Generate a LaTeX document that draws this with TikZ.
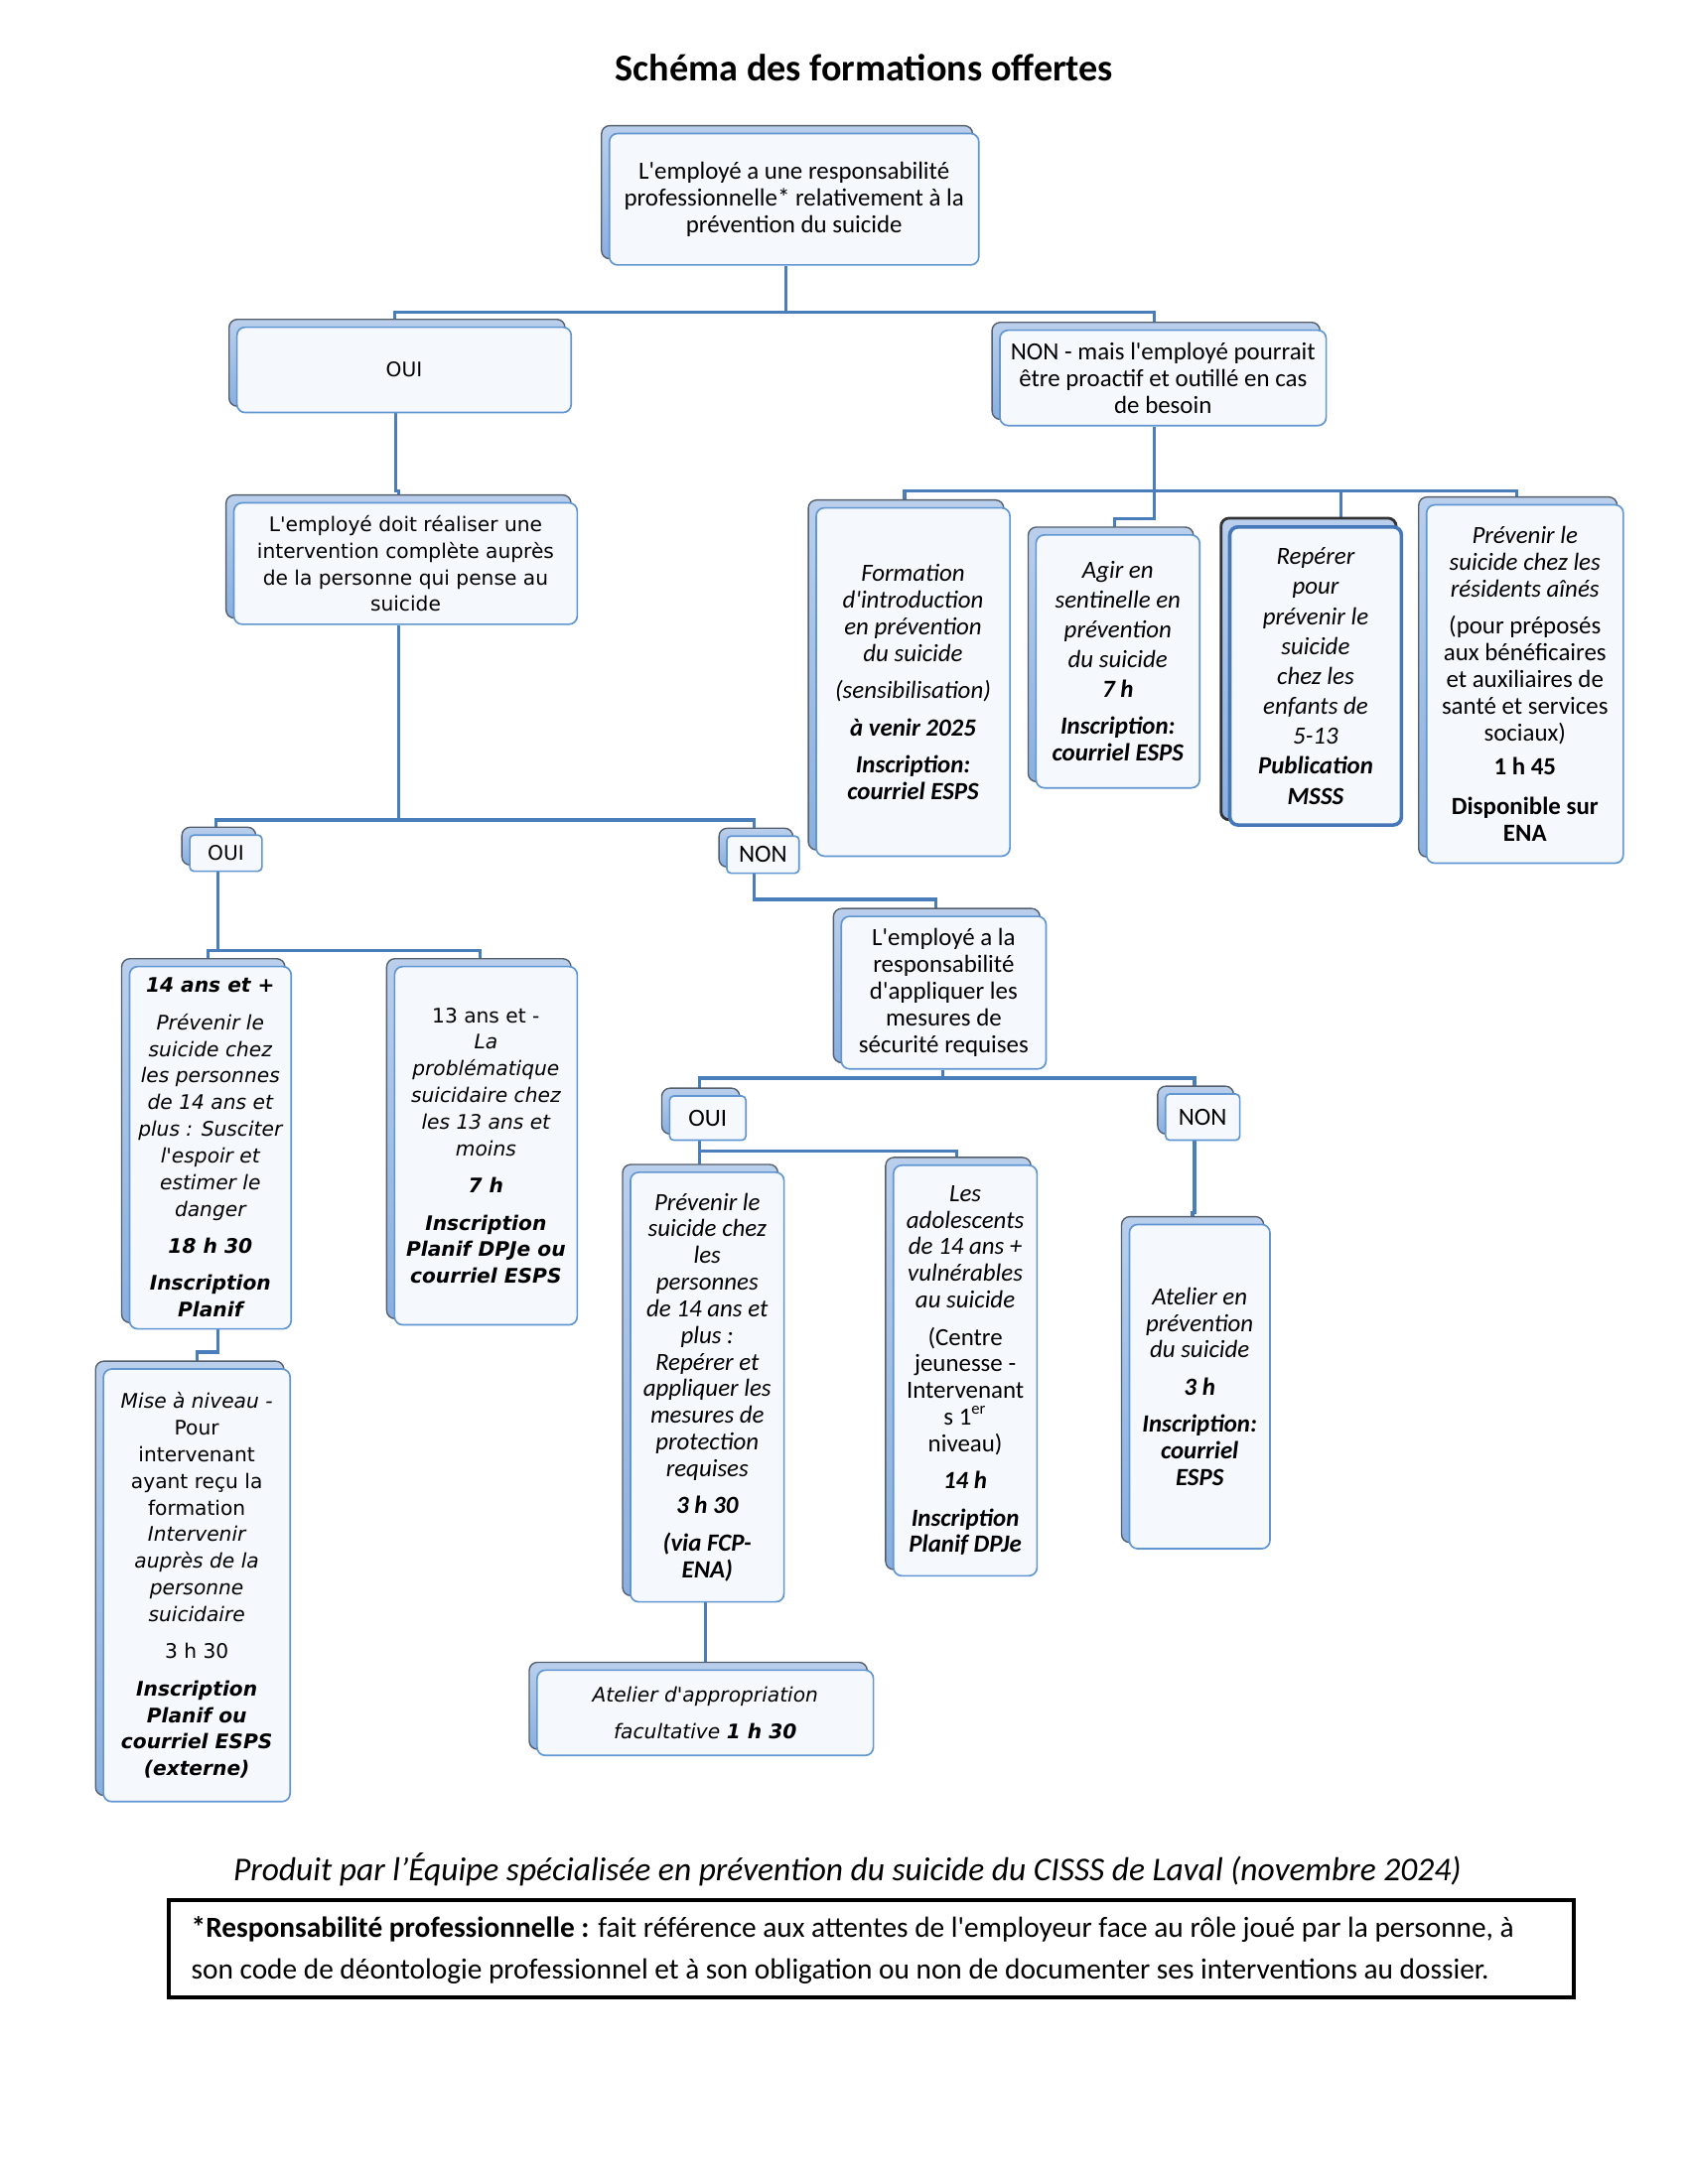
\documentclass[tikz,border=0pt]{standalone}
\usepackage{fontspec}
\setmainfont{Carlito}[Ligatures=TeXOff]
\newfontfamily\vfont{DejaVu Sans}[Ligatures=TeXOff]
\usetikzlibrary{calc,backgrounds}
\definecolor{conn}{RGB}{74,126,187}
\definecolor{backtop}{RGB}{186,207,236}
\definecolor{backbot}{RGB}{138,175,223}
\definecolor{backline}{RGB}{85,95,108}
\definecolor{frontfill}{RGB}{245,248,252}
\definecolor{frontline}{RGB}{96,150,210}
\definecolor{gline}{RGB}{70,120,185}
\newcommand\myI[1]{{\itshape #1}}
\newcommand\myB[1]{{\bfseries\itshape #1}}
\newcommand\backbox[1]{\path[back] ($(#1.north west)+(-7,-7)$) rectangle ($(#1.south east)+(-7,-7)$);}
\newcommand\backboxG[1]{\path[back, draw=black!80, line width=1pt] ($(#1.north west)+(-7,-7)$) rectangle ($(#1.south east)+(-7,-7)$);}
\newcommand\tobox[2]{($(#1 |- #2.north)+(0,-7)$)}
\tikzset{
  front/.style={draw=frontline, fill=frontfill, line width=0.6pt, rounded corners=3pt, inner sep=0pt, align=center},
  frontG/.style={front, draw=gline, line width=1.3pt},
  small/.style={rounded corners=1.5pt},
  sz/.style 2 args={minimum width=#1*0.36533pt, minimum height=#2*0.36533pt},
  cal/.style={font=\fontsize{9}{9.7}\selectfont},
  ver/.style={font=\vfont\fontsize{7.3}{9.7}\selectfont},
  link/.style={draw=conn, line width=1.2pt},
  back/.style={draw=backline, line width=0.5pt, top color=backtop, bottom color=backbot, rounded corners=3pt},
}
\begin{document}
\begin{tikzpicture}[x=0.36533pt, y=-0.36533pt]
\useasboundingbox (0,0) rectangle (1681.5,2176);

\node[font=\bfseries\fontsize{13.8}{16}\selectfont] (title) at (861,67) {Schéma des formations offertes};

\node[front, cal, sz={368}{131}] (A) at (791,198.5) {L'employé a une responsabilité\\ professionnelle* relativement à la\\ prévention du suicide};
\node[front, ver, sz={333}{85}] (B) at (402.5,368.5) {OUI};
\node[front, ver, sz={342}{121}] (C) at (404,561.5) {L'employé doit réaliser une\\ intervention complète auprès\\ de la personne qui pense au\\ suicide};
\node[front, cal, sz={325}{95}] (D) at (1158.5,376.5) {NON - mais l'employé pourrait\\ être proactif et outillé en cas\\ de besoin};

\node[front, cal, sz={193}{347}] (E) at (909.5,679.5) {\myI{Formation}\\ \myI{d'introduction}\\ \myI{en prévention}\\ \myI{du suicide}\\[3.8pt] \myI{(sensibilisation)}\\[3.8pt] \myB{à venir 2025}\\[3.8pt] \myB{Inscription:}\\ \myB{courriel ESPS}};
\node[front, cal, sz={163}{252}] (F) at (1113.5,659) {\myI{Agir en}\\[1.1pt] \myI{sentinelle en}\\[1.1pt] \myI{prévention}\\[1.1pt] \myI{du suicide}\\[1.1pt] \myB{7 h}\\[3.8pt] \myB{Inscription:}\\ \myB{courriel ESPS}};
\node[frontG, cal, sz={171}{297}] (G) at (1310.5,673.5) {\myI{Repérer}\\[1.2pt] \myI{pour}\\[1.2pt] \myI{prévenir le}\\[1.2pt] \myI{suicide}\\[1.2pt] \myI{chez les}\\[1.2pt] \myI{enfants de}\\[1.2pt] \myI{5-13}\\[1.2pt] \myB{Publication}\\[1.2pt] \myB{MSSS}};
\node[front, cal, sz={196}{357}] (H) at (1519,681.5) {\myI{Prévenir le}\\ \myI{suicide chez les}\\ \myI{résidents aînés}\\[3.8pt] (pour préposés\\ aux bénéficaires\\ et auxiliaires de\\ santé et services\\ sociaux)\\[2.8pt] \textbf{1 h 45}\\[4.7pt] \textbf{Disponible sur}\\ \textbf{ENA}};

\node[front, ver, small, sz={72}{36}] (O2) at (225,850) {OUI};
\node[front, cal, small, sz={72}{37}] (N2) at (760,851.5) {NON};

\node[front, ver, sz={161}{361}] (I) at (209.5,1143.5) {\myB{14 ans et +}\\[3.8pt] \myI{Prévenir le}\\ \myI{suicide chez}\\ \myI{les personnes}\\ \myI{de 14 ans et}\\ \myI{plus : Susciter}\\ \myI{l'espoir et}\\ \myI{estimer le}\\ \myI{danger}\\[3.8pt] \myB{18 h 30}\\[3.8pt] \myB{Inscription}\\ \myB{Planif}};
\node[front, ver, sz={182}{357}] (J) at (484,1141.5) {13 ans et -\\ \myI{La}\\ \myI{problématique}\\ \myI{suicidaire chez}\\ \myI{les 13 ans et}\\ \myI{moins}\\[3.8pt] \myB{7 h}\\[3.8pt] \myB{Inscription}\\ \myB{Planif DPJe ou}\\ \myB{courriel ESPS}};
\node[front, ver, sz={186}{431}] (K) at (196,1579.5) {\myI{Mise à niveau -}\\ Pour\\ intervenant\\ ayant reçu la\\ formation\\ \myI{Intervenir}\\ \myI{auprès de la}\\ \myI{personne}\\ \myI{suicidaire}\\[3.8pt] 3 h 30\\[3.8pt] \myB{Inscription}\\ \myB{Planif ou}\\ \myB{courriel ESPS}\\ \myB{(externe)}};

\node[front, cal, sz={204}{152}] (L) at (940,989) {L'employé a la\\ responsabilité\\ d'appliquer les\\ mesures de\\ sécurité requises};
\node[front, cal, small, sz={76}{44}] (O3) at (705,1114) {OUI};
\node[front, cal, small, sz={74}{46}] (N3) at (1198,1113) {NON};

\node[front, cal, sz={153}{428}] (M) at (704.5,1382) {\myI{Prévenir le}\\ \myI{suicide chez}\\ \myI{les}\\ \myI{personnes}\\ \myI{de 14 ans et}\\ \myI{plus :}\\ \myI{Repérer et}\\ \myI{appliquer les}\\ \myI{mesures de}\\ \myI{protection}\\ \myI{requises}\\[3.8pt] \myB{3 h 30}\\[3.8pt] \myB{(via FCP-}\\ \myB{ENA)}};
\node[front, cal, sz={143}{409}] (N) at (961.5,1365.5) {\myI{Les}\\ \myI{adolescents}\\ \myI{de 14 ans +}\\ \myI{vulnérables}\\ \myI{au suicide}\\[3.8pt] (Centre\\ jeunesse -\\ Intervenant\\ s 1\textsuperscript{er}\\ niveau)\\[3.8pt] \myB{14 h}\\[3.8pt] \myB{Inscription}\\ \myB{Planif DPJe}};
\node[front, ver, sz={335}{85}] (O) at (702.5,1706.5) {\myI{Atelier d'appropriation}\\[3.8pt] \myI{facultative \textbf{1 h 30}}};
\node[front, cal, sz={140}{323}] (P) at (1195,1381.5) {\myI{Atelier en}\\ \myI{prévention}\\ \myI{du suicide}\\[3.8pt] \myB{3 h}\\[3.8pt] \myB{Inscription:}\\ \myB{courriel}\\ \myB{ESPS}};

\node[font=\itshape\fontsize{12.1}{14}\selectfont] (prod) at (844,1863) {Produit par l’Équipe spécialisée en prévention du suicide du CISSS de Laval (novembre 2024)};
\node[draw=black, line width=1.5pt, sz={1400}{97}, inner sep=0pt] (fn) at (868,1941.5) {};
\node[anchor=west, align=left, inner sep=0pt, font=\fontsize{10.6}{15}\selectfont] (fntext) at (190,1943) {\textbf{*Responsabilité professionnelle :} fait référence aux attentes de l'employeur face au rôle joué par la personne, à\\ son code de déontologie professionnel et à son obligation ou non de documenter ses interventions au dossier.};

\begin{pgfonlayer}{background}
\fill[white] (0,0) rectangle (1681.5,2176);
% connectors
\coordinate (a0) at (783,311); \coordinate (a1) at (393,311); \coordinate (a2) at (1150,311);
\draw[link] (A.south -| a0) -- (a0);
\draw[link] \tobox{a1}{B} -- (a1) -- (a2) -- \tobox{a2}{D};
\coordinate (b0) at (394,489); \coordinate (b1) at (397,489);
\draw[link] (B.south -| b0) -- (b0) -- (b1) -- \tobox{b1}{C};
\coordinate (c0) at (397,817); \coordinate (c1) at (215,817); \coordinate (c2) at (751,817);
\draw[link] (C.south -| c0) -- (c0);
\draw[link] \tobox{c1}{O2} -- (c1) -- (c2) -- \tobox{c2}{N2};
\coordinate (d0) at (1150,489); \coordinate (d1) at (901,489); \coordinate (d2) at (1511,489);
\coordinate (d3) at (1150,517); \coordinate (d4) at (1110,517); \coordinate (d5) at (1336,489);
\draw[link] (D.south -| d0) -- (d3) -- (d4) -- \tobox{d4}{F};
\draw[link] \tobox{d1}{E} -- (d1) -- (d2) -- \tobox{d2}{H};
\draw[link] (d5) -- \tobox{d5}{G};
\coordinate (e0) at (217,947); \coordinate (e1) at (207,947); \coordinate (e2) at (478,947);
\draw[link] (O2.south -| e0) -- (e0);
\draw[link] \tobox{e1}{I} -- (e1) -- (e2) -- \tobox{e2}{J};
\coordinate (f0) at (217,1347); \coordinate (f1) at (196,1347);
\draw[link] (I.south -| f0) -- (f0) -- (f1) -- \tobox{f1}{K};
\coordinate (g0) at (751,896); \coordinate (g1) at (932,896);
\draw[link] (N2.south -| g0) -- (g0) -- (g1) -- \tobox{g1}{L};
\coordinate (h0) at (939,1074); \coordinate (h1) at (697,1074); \coordinate (h2) at (1190,1074);
\draw[link] (L.south -| h0) -- (h0);
\draw[link] \tobox{h1}{O3} -- (h1) -- (h2) -- \tobox{h2}{N3};
\coordinate (i0) at (697,1147); \coordinate (i1) at (953,1147);
\draw[link] (O3.south -| i0) -- (i0) -- (i1) -- \tobox{i1}{N};
\draw[link] (i0) -- \tobox{i0}{M};
\coordinate (j0) at (703,1600);
\draw[link] (M.south -| j0) -- \tobox{j0}{O};
\coordinate (k0) at (1190,1208); \coordinate (k1) at (1188,1208);
\draw[link] (N3.south -| k0) -- (k0) -- (k1) -- \tobox{k1}{P};
% back boxes
\backbox{A}\backbox{B}\backbox{C}\backbox{D}\backbox{E}\backbox{F}\backboxG{G}\backbox{H}
\backbox{O2}\backbox{N2}\backbox{I}\backbox{J}\backbox{K}\backbox{L}\backbox{O3}\backbox{N3}
\backbox{M}\backbox{N}\backbox{O}\backbox{P}
\end{pgfonlayer}
\end{tikzpicture}
\end{document}
